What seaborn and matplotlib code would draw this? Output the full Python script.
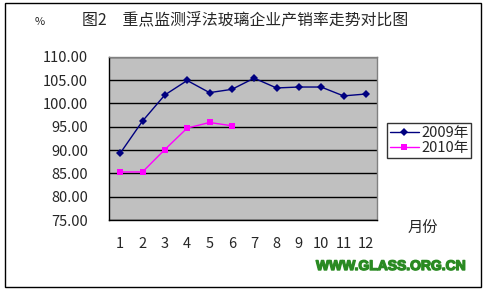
import matplotlib
matplotlib.use("Agg")
import matplotlib.pyplot as plt
import matplotlib.patheffects as pe
from matplotlib.patches import Rectangle
from matplotlib.ticker import FixedLocator, FormatStrFormatter
import seaborn as sns
import pandas as pd

months = list(range(1, 13))
rate_2009 = [89.3, 96.2, 101.8, 104.9, 102.3, 103.0, 105.4, 103.3, 103.5, 103.5, 101.6, 102.0]
months_2010 = [1, 2, 3, 4, 5, 6]
rate_2010 = [85.3, 85.3, 90.1, 94.7, 95.9, 95.2]
series_names = ["2009年", "2010年"]
y_ticks = [75, 80, 85, 90, 95, 100, 105, 110]
title = "图2\u3000重点监测浮法玻璃企业产销率走势对比图"
unit_label = "%"
x_label = "月份"
watermark = "WWW.GLASS.ORG.CN"

df = pd.concat([
    pd.DataFrame({"month": months, "rate": rate_2009, "year": series_names[0]}),
    pd.DataFrame({"month": months_2010, "rate": rate_2010, "year": series_names[1]}),
], ignore_index=True)

sns.set_style("white")
plt.rcParams["font.family"] = ["Noto Sans CJK SC", "DejaVu Sans"]

fig = plt.figure(figsize=(4.84, 2.90), dpi=100)
ax = fig.add_axes([109 / 484, 70 / 290, 268 / 484, 163.3 / 290])
ax.set_facecolor("#c0c0c0")

palette = {series_names[0]: "#000080", series_names[1]: "#ff00ff"}
markers = {series_names[0]: "D", series_names[1]: "s"}
sns.lineplot(data=df, x="month", y="rate", hue="year", style="year",
             palette=palette, markers=markers, dashes=False, linewidth=1,
             markersize=4.5, markeredgewidth=0, ax=ax, zorder=3)

ax.set_xlim(0.5, 12.5)
ax.set_ylim(75, 110)
ax.yaxis.set_major_locator(FixedLocator(y_ticks))
ax.yaxis.set_major_formatter(FormatStrFormatter("%.2f"))
ax.set_xticks(months)
ax.set_xticklabels([str(m) for m in months])
ax.xaxis.set_minor_locator(FixedLocator([m + 0.5 for m in months[:-1]]))
ax.tick_params(axis="x", which="major", length=0, pad=12, labelsize=10.5)
ax.tick_params(axis="x", which="minor", direction="in", length=4, width=1, color="black")
ax.tick_params(axis="y", which="major", length=0, pad=15, labelsize=10.5)
ax.grid(axis="y", color="black", linewidth=1)
ax.grid(axis="x", visible=False)
ax.set_axisbelow(True)
ax.set_xlabel("")
ax.set_ylabel("")
for side in ["left", "bottom"]:
    ax.spines[side].set_color("black")
    ax.spines[side].set_linewidth(1)
for side in ["top", "right"]:
    ax.spines[side].set_color("#808080")
    ax.spines[side].set_linewidth(1)

handles, labels = ax.get_legend_handles_labels()
ax.get_legend().remove()
leg = fig.legend(handles, labels, loc="center", bbox_to_anchor=(429 / 484, 1 - 140.5 / 290),
                 frameon=True, fancybox=False, edgecolor="black", fontsize=10.5,
                 handlelength=2.0, handletextpad=0.15, borderpad=0.2, labelspacing=0.1,
                 borderaxespad=0)
leg.get_frame().set_linewidth(1)

fig.text(245 / 484, 1 - 20 / 290, title, ha="center", va="center", fontsize=11.4)
fig.text(40 / 484, 1 - 22 / 290, unit_label, ha="center", va="center", fontsize=8)
fig.text(423 / 484, 1 - 228 / 290, x_label, ha="center", va="center", fontsize=11)
fig.text(391 / 484, 1 - 266 / 290, watermark, ha="center", va="center", fontsize=10.0,
         fontweight="bold", color="#2a8a22", family=["Liberation Sans", "DejaVu Sans"],
         path_effects=[pe.withStroke(linewidth=1.0, foreground="#2a8a22")])

fig.patches.append(Rectangle((5 / 484, 3 / 290), 476 / 484, 284 / 290, transform=fig.transFigure,
                             fill=False, edgecolor="black", linewidth=1))

fig.savefig("out.png", dpi=100, facecolor="white")
